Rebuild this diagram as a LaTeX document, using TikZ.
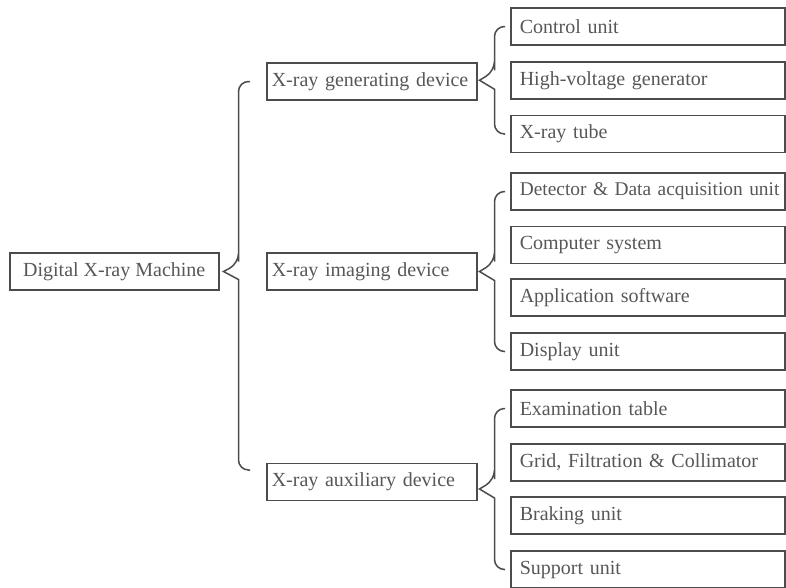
\documentclass[tikz,border=0pt]{standalone}
\usepackage{fontspec}
\setmainfont{Liberation Serif}
\usetikzlibrary{calc}

\definecolor{linegray}{gray}{0.3}
\definecolor{textgray}{gray}{0.34}

\tikzset{
  rootbox/.style={draw=linegray, line width=1.5pt, minimum width=209pt,
    minimum height=37pt, inner sep=0pt, text=textgray, anchor=west},
  devbox/.style={draw=linegray, line width=1.5pt, text width=200pt,
    inner xsep=5pt, inner ysep=0pt, minimum height=37pt, align=left,
    text=textgray, anchor=west},
  unitbox/.style={draw=linegray, line width=1.5pt, text width=256pt,
    inner xsep=9pt, inner ysep=0pt, minimum height=37pt, align=left,
    text=textgray, anchor=west},
  brace/.style={draw=linegray, line width=1.5pt, rounded corners=10pt},
}

\begin{document}
\begin{tikzpicture}[x=1pt, y=-1pt, every node/.style={font=\fontsize{20}{24}\selectfont}]
    \useasboundingbox (0,0) rectangle (786,587);

    % Root of the tree
    \node[rootbox] (mach) at (9,271.5) {Digital X-ray Machine};

    % The three devices
    \node[devbox] (gen) at (266,81.5) {X-ray generating device};
    \node[devbox] (img) at (266,271.5) {X-ray imaging device};
    \node[devbox] (aux) at (266,482) {X-ray auxiliary device};

    % Units of the generating device
    \node[unitbox] (ctrl) at (510,26.5) {Control unit};
    \node[unitbox] (hvg) at (510,80.5) {High-voltage generator};
    \node[unitbox] (tube) at (510,134) {X-ray tube};

    % Units of the imaging device
    \node[unitbox, font=\fontsize{19.4}{24}\selectfont] (det) at (510,191.5) {\mbox{Detector \& Data acquisition unit}};
    \node[unitbox] (comp) at (510,245) {Computer system};
    \node[unitbox] (soft) at (510,297.5) {Application software};
    \node[unitbox] (disp) at (510,351.5) {Display unit};

    % Units of the auxiliary device
    \node[unitbox] (exam) at (510,408.5) {Examination table};
    \node[unitbox] (grid) at (510,462.5) {Grid, Filtration \& Collimator};
    \node[unitbox] (brak) at (510,515.5) {Braking unit};
    \node[unitbox] (sup) at (510,569.5) {Support unit};

    % Tips of the small braces
    \coordinate (gentip) at ($(gen.east |- ctrl.west)!0.5!(gen.east |- tube.west)$);
    \coordinate (imgtip) at ($(img.east |- det.west)!0.5!(img.east |- disp.west)$);
    \coordinate (auxtip) at ($(aux.east |- exam.west)!0.5!(aux.east |- sup.west)$);

    % Brace from the machine to the devices
    \draw[brace] ($(gen.west)+(-16,0)$) -| ($(mach.east)+(19,-20)$) -- ($(mach.east)+(19,-8)$)
      [sharp corners] -- ($(mach.east)+(4,0)$) -- ($(mach.east)+(19,8)$) -- ($(mach.east)+(19,20)$)
      [rounded corners=10pt] |- ($(aux.west)+(-16,-12)$);

    % Brace from the generating device
    \draw[brace] ($(ctrl.west)+(-5,0)$) -| ($(gentip)+(17,-20)$) -- ($(gentip)+(17,-9)$)
      [sharp corners] -- ($(gentip)+(2,0)$) -- ($(gentip)+(17,9)$) -- ($(gentip)+(17,20)$)
      [rounded corners=10pt] |- ($(tube.west)+(-5,0)$);

    % Brace from the imaging device
    \draw[brace] ($(det.west)+(-5,0)$) -| ($(imgtip)+(17,-20)$) -- ($(imgtip)+(17,-9)$)
      [sharp corners] -- ($(imgtip)+(2,0)$) -- ($(imgtip)+(17,9)$) -- ($(imgtip)+(17,20)$)
      [rounded corners=10pt] |- ($(disp.west)+(-5,0)$);

    % Brace from the auxiliary device
    \draw[brace] ($(exam.west)+(-5,0)$) -| ($(auxtip)+(17,-20)$) -- ($(auxtip)+(17,-9)$)
      [sharp corners] -- ($(auxtip)+(2,0)$) -- ($(auxtip)+(17,9)$) -- ($(auxtip)+(17,20)$)
      [rounded corners=10pt] |- ($(sup.west)+(-5,0)$);
\end{tikzpicture}
\end{document}
